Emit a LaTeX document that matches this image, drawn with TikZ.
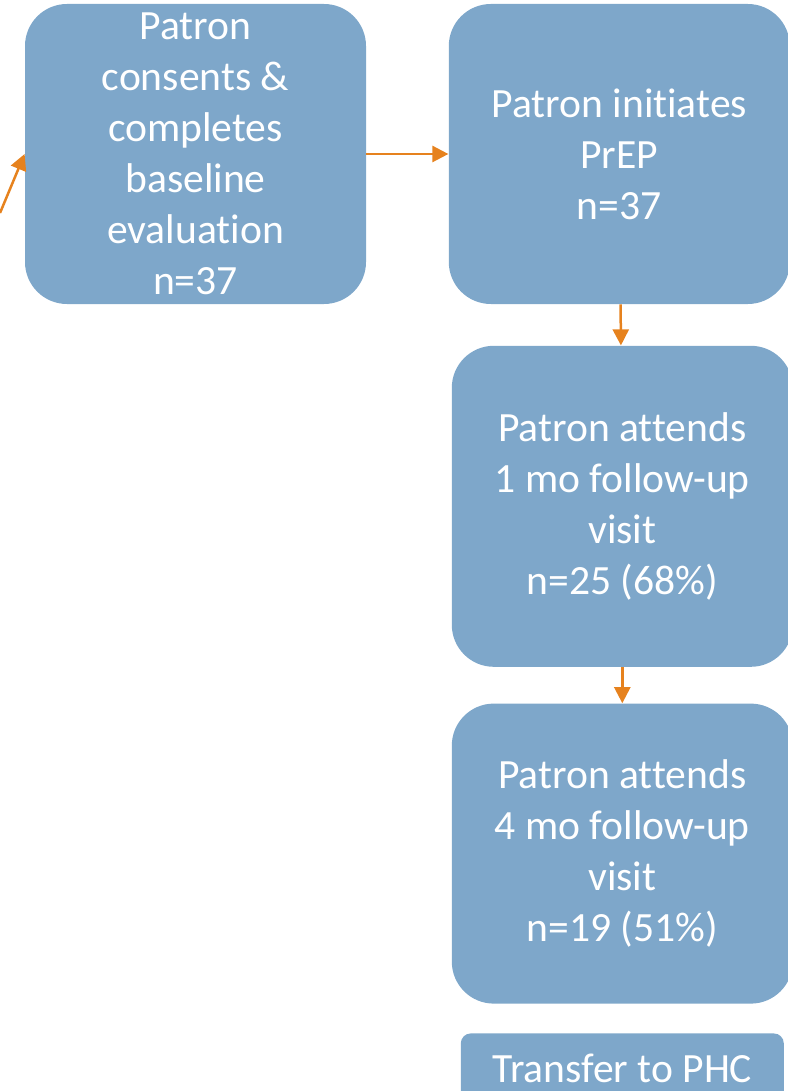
\documentclass[tikz,border=0pt]{standalone}
\usepackage{fontspec}
\setmainfont{Carlito}[Ligatures=NoCommon]
\usetikzlibrary{arrows.meta,positioning}
\definecolor{boxblue}{HTML}{7EA7CA}
\definecolor{arrorange}{HTML}{E6821E}
\tikzset{
  >={Triangle[length=8pt,width=8pt]},
  flowbox/.style={fill=boxblue,rounded corners=21pt,text=white,align=center,inner sep=0pt,
    font=\fontsize{20.8}{25.5}\selectfont,minimum width=170.5pt,minimum height=150pt},
  smallbox/.style={flowbox,rounded corners=5pt,minimum width=161.5pt,minimum height=35pt},
  arr/.style={->,draw=arrorange,line width=1.25pt},
}
\begin{document}
\begin{tikzpicture}
\useasboundingbox (0,0) rectangle (393.5pt,-545.5pt);
\node[flowbox] (consent) at (97.75pt,-77pt) {Patron\\consents \&\\completes\\baseline\\evaluation\\n=37};
\node[flowbox,right=41pt of consent] (init) {Patron initiates\\PrEP\\n=37};
\node[flowbox,minimum height=160.5pt,below=20.5pt of init,xshift=1.5pt] (visit1) {Patron attends\\1 mo follow-up\\visit\\n=25 (68\%)};
\node[flowbox,below=18pt of visit1] (visit4) {Patron attends\\4 mo follow-up\\visit\\n=19 (51\%)};
\node[smallbox,below=14.5pt of visit4] (phc) {Transfer to PHC};
\coordinate (enter) at (0pt,-106.5pt);
\draw[arr] (enter) -- (consent.west);
\foreach \u/\v in {consent/init,init/visit1,visit1/visit4} \draw[arr] (\u)--(\v);
\end{tikzpicture}
\end{document}
